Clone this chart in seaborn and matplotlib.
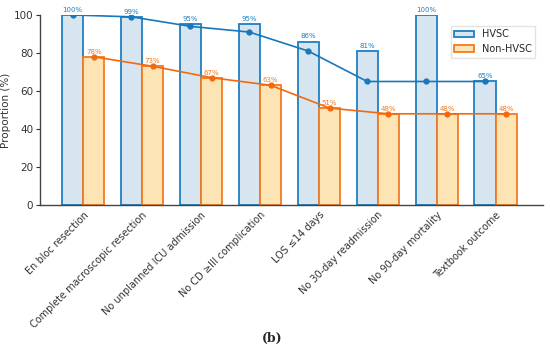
import numpy as np
import pandas as pd
import matplotlib
matplotlib.use("Agg")
import matplotlib.pyplot as plt
import seaborn as sns
from matplotlib.patches import Patch

categories = ["En bloc resection", "Complete macroscopic resection",
              "No unplanned ICU admission", "No CD \u2265III complication",
              "LOS \u226414 days", "No 30-day readmission",
              "No 90-day mortality", "Textbook outcome"]
hvsc_bars = [100, 99, 95, 95, 86, 81, 100, 65]
non_hvsc_bars = [78, 73, 67, 63, 51, 48, 48, 48]
# cumulative lines drawn over the bars
hvsc_line = [100, 99, 94, 91, 81, 65, 65, 65]
non_hvsc_line = [78, 73, 67, 63, 51, 48, 48, 48]
groups = ["HVSC", "Non-HVSC"]

blue_edge = "#1f7fc0"
blue_fill = "#d7e5f1"
orange_edge = "#f47a20"
orange_fill = "#fde4b4"

df = pd.DataFrame({
    "Outcome": categories * 2,
    "Proportion": hvsc_bars + non_hvsc_bars,
    "Group": [groups[0]] * len(categories) + [groups[1]] * len(categories),
})

sns.set_style("white")
plt.rcParams['font.family'] = ['DejaVu Sans']

fig = plt.figure(figsize=(5.5, 3.56), dpi=100)
ax = fig.add_axes([0.073, 0.424, 0.914, 0.534])

sns.barplot(data=df, x="Outcome", y="Proportion", hue="Group",
            palette=[blue_fill, orange_fill], width=0.72, gap=0,
            saturation=1, ax=ax, legend=False)

edges = [blue_edge, orange_edge]
for cont, ec in zip(ax.containers, edges):
    for p in cont:
        p.set_edgecolor(ec)
        p.set_linewidth(1.3)
    ax.bar_label(cont, fmt="%d%%", fontsize=5, color=ec, padding=1.5)

x = np.arange(len(categories))
ax.plot(x - 0.18, hvsc_line, color="#1778bb", lw=1.2, marker="o", ms=3.5, zorder=4)
ax.plot(x + 0.18, non_hvsc_line, color="#f26a10", lw=1.2, marker="o", ms=3.5, zorder=4)

handles = [Patch(facecolor=blue_fill, edgecolor=blue_edge, lw=1.3, label=groups[0]),
           Patch(facecolor=orange_fill, edgecolor=orange_edge, lw=1.3, label=groups[1])]
ax.legend(handles=handles, loc="upper right", bbox_to_anchor=(0.995, 0.97),
          fontsize=7, frameon=True, edgecolor="#dddddd", fancybox=False)

ax.set_xlim(-0.73, 7.8)
ax.set_ylim(0, 100)
ax.set_yticks([0, 20, 40, 60, 80, 100])
ax.set_xlabel("")
ax.set_ylabel("Proportion (%)", fontsize=7.5, color="#333333")
ax.yaxis.set_label_coords(-0.058, 0.5)
ax.tick_params(axis="y", labelsize=7.5, length=3, left=True, pad=2, colors="#333333")
ax.tick_params(axis="x", length=0)
ax.set_xticks(x)
ax.set_xticklabels(categories, rotation=45, ha="right", rotation_mode="anchor",
                   fontsize=7, color="#333333")
sns.despine(ax=ax)
for s in ["left", "bottom"]:
    ax.spines[s].set_color("#444444")
    ax.spines[s].set_linewidth(1)

fig.text(0.495, 0.03, "(b)", fontsize=9, fontweight="bold", family="DejaVu Serif",
         ha="center", va="bottom")

fig.savefig("out.png", dpi=100)
